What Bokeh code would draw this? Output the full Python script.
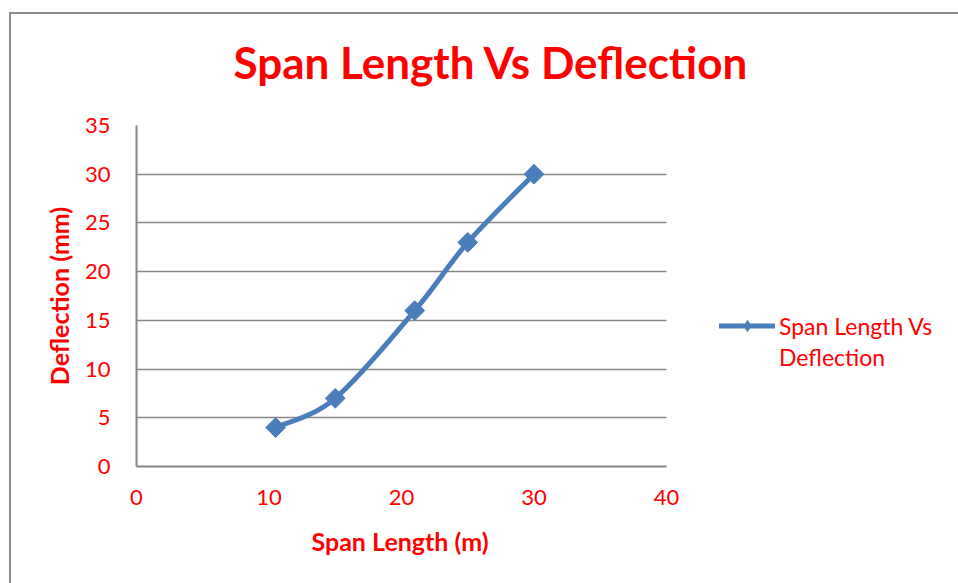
import numpy as np
from bokeh.plotting import figure
from bokeh.models import Range1d, SingleIntervalTicker, Legend, LegendItem, Title
from bokeh.embed import file_html
from bokeh.resources import INLINE

# ---- data ----
span_length = [10.5, 15, 21, 25, 30]
deflection = [4, 7, 16, 23, 30]
x_axis_max = 40
y_axis_max = 35
series_name_lines = ["Span Length Vs", "Deflection"]
chart_title = "Span Length Vs Deflection"
x_label = "Span Length (m)"
y_label = "Deflection (mm)"

RED = "#FF0000"
BLUE = "#4A7EBB"
GREY = "#868686"
FONT = "Lato"

PLOT_W = 530           # pixel width of the 0..40 plotting area
FRAME_W = 815          # frame extended to the right to host the legend
FRAME_H = 341

p = figure(frame_width=FRAME_W, frame_height=FRAME_H, output_backend="svg",
           toolbar_location=None,
           x_range=Range1d(0, x_axis_max * FRAME_W / PLOT_W), y_range=Range1d(0, y_axis_max),
           min_border_left=125, min_border_right=7, min_border_top=111,
           min_border_bottom=117, title=None)
p.margin = (12, 0, 0, 9)
p.styles = {"border-left": "2px solid #8a8a8a", "border-top": "2px solid #8a8a8a"}
p.outline_line_color = None
p.background_fill_color = "white"
p.border_fill_color = "white"

# spacer nearest the frame, chart title above it
spacer = Title(text=" ", text_font_size="14px", standoff=15)
p.add_layout(spacer, "above")
t = Title(text=chart_title, align="left", offset=97, text_color=RED,
          text_font=FONT, text_font_style="bold", text_font_size="44px", standoff=10)
p.add_layout(t, "above")

# smoothed line (Catmull-Rom style, like Excel smoothing)
xs = np.array(span_length, dtype=float)
ys = np.array(deflection, dtype=float)
n = len(xs)
x0, y0, x1, y1, cx0, cy0, cx1, cy1 = ([] for _ in range(8))
for i in range(n - 1):
    pm = max(i - 1, 0)
    pp = min(i + 2, n - 1)
    x0.append(xs[i]); y0.append(ys[i])
    x1.append(xs[i + 1]); y1.append(ys[i + 1])
    cx0.append(xs[i] + (xs[i + 1] - xs[pm]) / 6); cy0.append(ys[i] + (ys[i + 1] - ys[pm]) / 6)
    cx1.append(xs[i + 1] - (xs[pp] - xs[i]) / 6); cy1.append(ys[i + 1] - (ys[pp] - ys[i]) / 6)

bz = p.bezier(x0=x0, y0=y0, x1=x1, y1=y1, cx0=cx0, cy0=cy0, cx1=cx1, cy1=cy1,
              line_color=BLUE, line_width=5, line_cap="round")
# legend-only diamond (zero size on the chart, hidden under the first point)
leg_marker = p.scatter(x=span_length[:1], y=deflection[:1], marker="diamond", size=0,
                       fill_color=BLUE, line_color=BLUE, line_width=0)
sc = p.scatter(span_length, deflection, marker="square", angle=np.pi / 4, size=14,
               fill_color=BLUE, line_color=BLUE)
leg_blank = p.line(x=[], y=[], line_alpha=0)

legend = Legend(items=[LegendItem(label=series_name_lines[0], renderers=[bz, leg_marker]),
                       LegendItem(label=series_name_lines[1], renderers=[leg_blank])],
                location=(583, 94), label_text_font=FONT, label_text_color=RED,
                label_text_font_size="23px", glyph_width=56, glyph_height=31,
                spacing=0, border_line_color=None, background_fill_alpha=0, padding=0,
                label_standoff=4, margin=0)
p.add_layout(legend)

# axes
p.xaxis.ticker = SingleIntervalTicker(interval=10)
p.yaxis.ticker = SingleIntervalTicker(interval=5)
p.xaxis.bounds = (0, x_axis_max)
for ax in (p.xaxis[0], p.yaxis[0]):
    ax.axis_line_color = GREY
    ax.axis_line_width = 2
    ax.major_tick_line_color = None
    ax.minor_tick_line_color = None
    ax.major_tick_out = 0
    ax.major_tick_in = 0
    ax.minor_tick_out = 0
    ax.major_label_text_color = RED
    ax.major_label_text_font = FONT
    ax.major_label_text_font_size = "22px"
    ax.axis_label_text_color = RED
    ax.axis_label_text_font = FONT
    ax.axis_label_text_font_style = "bold"
    ax.axis_label_text_font_size = "25px"
p.yaxis.axis_label = y_label
p.yaxis.major_label_standoff = 26
p.xaxis.major_label_standoff = 23
p.yaxis.axis_label_standoff = 8

# x axis title, centred under the 0..40 plotting area
xt = Title(text=x_label, align="left", offset=175, text_color=RED, text_font=FONT,
           text_font_style="bold", text_font_size="25px", standoff=32)
p.add_layout(xt, "below")

p.xgrid.grid_line_color = None
p.ygrid.grid_line_color = GREY
p.ygrid.grid_line_width = 1.5
p.ygrid.cross_bounds = (0, x_axis_max)

open("out.html", "w").write(file_html(p, INLINE))
